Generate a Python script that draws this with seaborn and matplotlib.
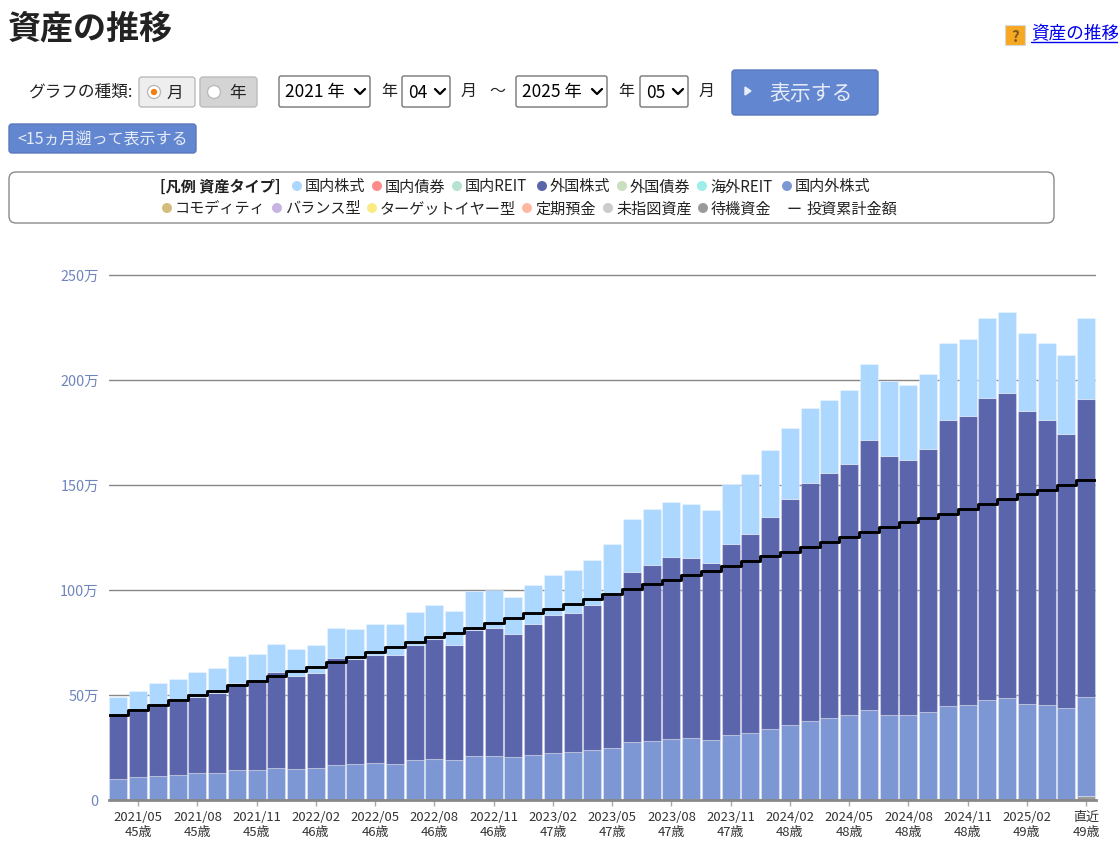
import numpy as np
import pandas as pd
import seaborn as sns
import matplotlib.pyplot as plt
from matplotlib.patches import Circle, FancyBboxPatch, Rectangle

# values in 万円, one per month from 2021/04 to 2025/05
months = list(range(50))
cash = [0] * 15 + [0.3] + [0] * 13 + [0.3] + [0] * 11 + [0.3] + [0] * 7 + [2.0]
intl_stock = [10, 10.7, 11.4, 11.9, 12.9, 12.9, 14.3, 14.3, 15.3, 14.8,
              15.3, 16.7, 17.2, 17.6, 17.2, 18.4, 19.4, 18.9, 20.8, 20.8,
              20.2, 21.1, 22.3, 22.6, 23.7, 24.6, 27.3, 28, 28.9, 29.1,
              28.2, 31, 32, 33.9, 35.8, 37.7, 39.1, 40.1, 42.8, 40.5,
              40.2, 41.5, 44.8, 45.3, 47.5, 48.2, 45.8, 45.2, 43.9, 47.1]
foreign_stock = [30.2, 31.6, 33.3, 35.1, 35.9, 37.8, 41.3, 41.7, 45.4, 44.2,
                 45.1, 50.9, 49.9, 51.2, 51.6, 55, 56.9, 55, 60.2, 60.9,
                 58.8, 62.5, 65.5, 66.3, 69, 72.7, 81.1, 83.9, 86.5, 85.7,
                 84.4, 91, 94.3, 100.9, 107.5, 113.3, 116.3, 119.6, 128.5, 123.3,
                 121.7, 125.2, 135.8, 137.6, 143.9, 145.6, 139.4, 135.8, 130.4, 141.7]
domestic_stock = [8.8, 9.7, 10.9, 10.4, 12.2, 12.1, 12.6, 13.3, 13.4, 12.7,
                  13.1, 14.3, 14.1, 14.7, 14.7, 15.9, 16.5, 15.9, 18.4, 18.3,
                  17.5, 18.8, 19.4, 20.6, 21.6, 24.6, 25.5, 26.3, 26.4, 25.9,
                  25.3, 28.2, 28.6, 31.5, 33.7, 35.5, 34.8, 35.2, 36, 35.7,
                  35.4, 35.5, 36.9, 36.3, 38, 38.6, 37, 36.5, 37.3, 38.6]
invested = [40.5, 42.9, 45.3, 47.7, 49.8, 52, 54.4, 56.6, 59, 61.4,
            63.4, 65.7, 68, 70.3, 72.7, 75.1, 77.3, 79.5, 81.9, 84.1,
            86.5, 88.9, 90.8, 93, 95.6, 97.9, 100.2, 102.5, 104.4, 106.8,
            108.9, 111.1, 113.5, 116, 117.9, 120.2, 122.5, 124.9, 127.3, 129.7,
            132.1, 134, 136.2, 138.6, 140.9, 143.3, 145.7, 147.6, 150, 152.4]

tick_months = [1, 4, 7, 10, 13, 16, 19, 22, 25, 28, 31, 34, 37, 40, 43, 46, 49]
tick_labels = ["2021/05\n45歳", "2021/08\n45歳", "2021/11\n45歳",
               "2022/02\n46歳", "2022/05\n46歳", "2022/08\n46歳", "2022/11\n46歳",
               "2023/02\n47歳", "2023/05\n47歳", "2023/08\n47歳", "2023/11\n47歳",
               "2024/02\n48歳", "2024/05\n48歳", "2024/08\n48歳", "2024/11\n48歳",
               "2025/02\n49歳", "直近\n49歳"]
y_ticks = [0, 50, 100, 150, 200, 250]
y_labels = ["0", "50万", "100万", "150万", "200万", "250万"]

legend_row1 = [("国内株式", "#acd7ff", 297), ("国内債券", "#ff8a8a", 377), ("国内REIT", "#b8e2d2", 457),
               ("外国株式", "#5a65ab", 542), ("外国債券", "#c8dfc0", 622), ("海外REIT", "#9deee8", 702),
               ("国内外株式", "#7c97d3", 787)]
legend_row2 = [("コモディティ", "#d3bd7c", 167), ("バランス型", "#c8b4e3", 277),
               ("ターゲットイヤー型", "#f9ec85", 372), ("定期預金", "#ffb9a3", 527),
               ("未指図資産", "#cbcbcb", 608), ("待機資金", "#9a9a9a", 703)]

sns.set_style("white")
plt.rcParams['font.family'] = ['Noto Sans CJK JP', 'DejaVu Sans']

W, H = 1118, 854
fig = plt.figure(figsize=(W / 100, H / 100), dpi=100)

# chart area, placed in pixels of the page
ax = fig.add_axes([108.5 / W, (H - 800.7) / H, 987.5 / W, 2.1 * 252 / H])

df = pd.DataFrame({
    "month": months * 4,
    "asset": ["待機資金"] * 50 + ["国内外株式"] * 50 + ["外国株式"] * 50 + ["国内株式"] * 50,
    "amount": cash + intl_stock + foreign_stock + domestic_stock,
})
palette = {"待機資金": "#9a9a9a", "国内外株式": "#7c97d3", "外国株式": "#5a65ab", "国内株式": "#acd7ff"}

sns.histplot(data=df, x="month", weights="amount", hue="asset",
             hue_order=["国内株式", "外国株式", "国内外株式", "待機資金"],
             palette=palette, multiple="stack", discrete=True, shrink=0.92,
             alpha=1, edgecolor=(1, 1, 1, 0.3), linewidth=0.8, legend=False, ax=ax, zorder=2)

# flat ends so the step line reaches the outer bar edges
line_x = [months[0] - 0.47] + months + [months[-1] + 0.47]
line_y = [invested[0]] + invested + [invested[-1]]
sns.lineplot(x=line_x, y=line_y, color="black", linewidth=2.1, drawstyle="steps-mid",
             estimator=None, ax=ax, zorder=3)

ax.set_xlim(-0.5, 49.5)
ax.set_ylim(0, 252)
ax.set_xlabel("")
ax.set_ylabel("")
ax.set_xticks(tick_months)
ax.set_xticklabels(tick_labels, fontsize=9.4, color="#333333", linespacing=1.15)
ax.set_yticks(y_ticks)
ax.set_yticklabels(y_labels, fontsize=10.4, color="#6f86bd")
ax.tick_params(axis="x", length=4, width=1, color="#aaaaaa", pad=3.5, bottom=True)
ax.tick_params(axis="y", length=0, pad=7)
ax.set_axisbelow(True)
ax.grid(axis="y", color="#888888", linewidth=1)
ax.grid(axis="x", visible=False)
sns.despine(ax=ax, left=True, top=True, right=True)
ax.spines["bottom"].set_color("#888888")
ax.spines["bottom"].set_linewidth(2)
ax.spines["bottom"].set_zorder(4)

# page furniture above the chart, in pixel coordinates
ui = fig.add_axes([0, 0, 1, 1], zorder=-1)
ui.set_xlim(0, W)
ui.set_ylim(H, 0)
ui.axis("off")


def box(x0, y0, x1, y1, face, edge, r=3, lw=1):
    ui.add_patch(FancyBboxPatch((x0 + r, y0 + r), x1 - x0 - 2 * r, y1 - y0 - 2 * r,
                                boxstyle=f"round,pad={r},rounding_size={r}",
                                facecolor=face, edgecolor=edge, linewidth=lw))


def label(x, y, s, size=11.5, color="#222222", ha="left", **kw):
    ui.text(x, y + 1.5, s, fontsize=size, color=color, ha=ha, va="center", **kw)


def select(x0, x1, s):
    box(x0, 77, x1, 108, "white", "#767676", r=2)
    label(x0 + 6, 91, s, size=12.5, color="black")
    cx = x1 - 10
    ui.plot([cx - 5, cx, cx + 5], [90, 95, 90], color="black", linewidth=1.6)


label(8, 27, "資産の推移", size=23.8, weight="bold")

ui.add_patch(Rectangle((1005, 26), 20, 20, facecolor="#f7a823", edgecolor="#d9d9d9", linewidth=0.8))
label(1015, 35, "?", size=11, color="#7a5a20", ha="center", weight="bold")
label(1031, 33, "資産の推移", size=12.7, color="#0000ee")
ui.plot([1031, 1118], [43, 43], color="#0000ee", linewidth=1)

label(28, 91, "グラフの種類:", size=12)
box(139, 78, 195, 108, "#eeeeee", "#bbbbbb")
box(200, 78, 257, 108, "#d4d4d4", "#bbbbbb")
ui.add_patch(Circle((154, 93), 6.5, facecolor="white", edgecolor="#bbbbbb", linewidth=1))
ui.add_patch(Circle((154, 93), 3.2, facecolor="#f08010", edgecolor="none"))
ui.add_patch(Circle((214, 93), 6.5, facecolor="white", edgecolor="#bbbbbb", linewidth=1))
label(175, 92, "月", size=12, ha="center")
label(238, 92, "年", size=12, ha="center")

select(279, 370, "2021 年")
label(381, 90, "年", size=11.5)
select(402, 450, "04")
label(461, 90, "月", size=11.5)
label(489, 90, "～", size=11.5)
select(516, 607, "2025 年")
label(618, 90, "年", size=11.5)
select(640, 688, "05")
label(699, 90, "月", size=11.5)

box(732, 71, 878, 116, "#6286d0", "#5a79bd")
ui.fill([745, 751, 745], [88, 92, 96], color="#e8eefa")
label(769, 92, "表示する", size=15, color="#e6ecf8")

box(9, 125, 196, 154, "#6286d0", "#5a79bd")
label(17, 138.5, "<15ヵ月遡って表示する", size=11.5, color="#e6ecf8")

box(9, 173, 1054, 224, "white", "#8a8a8a", r=7)
label(160, 185.5, "[凡例 資産タイプ]", size=10.9, weight="bold")
for name, colour, x in legend_row1:
    ui.add_patch(Circle((x, 187), 5, facecolor=colour, edgecolor="none"))
    label(x + 8, 185.5, name, size=10.9)
for name, colour, x in legend_row2:
    ui.add_patch(Circle((x, 209), 5, facecolor=colour, edgecolor="none"))
    label(x + 8, 207.5, name, size=10.9)
label(787, 207.5, "ー", size=10.9)
label(806, 207.5, "投資累計金額", size=10.9)

ax.patch.set_alpha(0)
fig.savefig("out.png", dpi=100)
